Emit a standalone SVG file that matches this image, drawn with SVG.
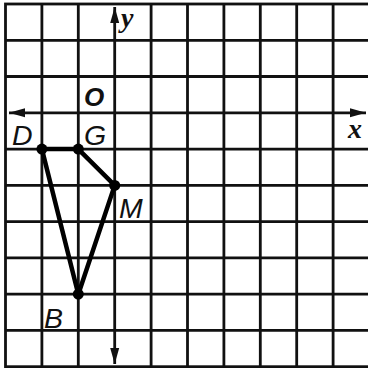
<svg xmlns="http://www.w3.org/2000/svg" width="368" height="368" viewBox="0 0 368 368">
<style>
.grid{stroke:#111;stroke-width:2.8;fill:none}
.axis{stroke:#111;stroke-width:2.8;fill:none}
.edge{stroke:#000;stroke-width:4.5;fill:none;stroke-linejoin:round;stroke-linecap:round}
.pt{fill:#000}
.lbl{font-family:"Liberation Sans",Arial,sans-serif;font-style:italic;font-size:28.5px;fill:#111}
.ax{font-family:"Liberation Serif","Times New Roman",serif;font-style:italic;font-weight:bold;font-size:28px;fill:#111}
.o{font-family:"Liberation Sans",Arial,sans-serif;font-style:italic;font-weight:bold;font-size:26px;fill:#111}
</style>
<defs>
<marker id="arr" viewBox="0 0 16 10" markerWidth="16" markerHeight="10" refX="16" refY="5" orient="auto-start-reverse" markerUnits="userSpaceOnUse">
<path d="M0,0.5 L16,5 L0,9.5 z" fill="#111"/>
</marker>
</defs>
<rect width="368" height="368" fill="#fff"/>
<g id="grid" class="grid">
<rect x="5.5" y="4" width="364" height="362.7"/>
<path d="M41.9,4V366.7M78.3,4V366.7M151.1,4V366.7M187.5,4V366.7M223.9,4V366.7M260.3,4V366.7M296.7,4V366.7M333.1,4V366.7"/>
<path d="M5.5,40.3H369.5M5.5,76.5H369.5M5.5,149.1H369.5M5.5,185.4H369.5M5.5,221.6H369.5M5.5,257.9H369.5M5.5,294.2H369.5M5.5,330.4H369.5"/>
</g>
<g id="axes" class="axis">
<line x1="114.7" y1="7" x2="114.7" y2="364" marker-start="url(#arr)" marker-end="url(#arr)"/>
<line x1="9" y1="112.8" x2="366" y2="112.8" marker-start="url(#arr)" marker-end="url(#arr)"/>
</g>
<g id="connectors">
<polygon class="edge" points="41.9,149.1 78.3,149.1 114.7,185.4 78.3,294.2"/>
</g>
<g id="node-D"><circle class="pt" cx="41.9" cy="149.1" r="5.5"/><text class="lbl" x="12" y="145">D</text></g>
<g id="node-G"><circle class="pt" cx="78.3" cy="149.1" r="5.5"/><text class="lbl" x="84" y="145">G</text></g>
<g id="node-M"><circle class="pt" cx="114.7" cy="185.4" r="5.5"/><text class="lbl" x="119" y="218">M</text></g>
<g id="node-B"><circle class="pt" cx="78.3" cy="294.2" r="5.5"/><text class="lbl" x="44" y="328">B</text></g>
<g id="labels">
<text class="o" x="84" y="106">O</text>
<text class="ax" x="348" y="138">x</text>
<text class="ax" x="121" y="27">y</text>
</g>
</svg>
